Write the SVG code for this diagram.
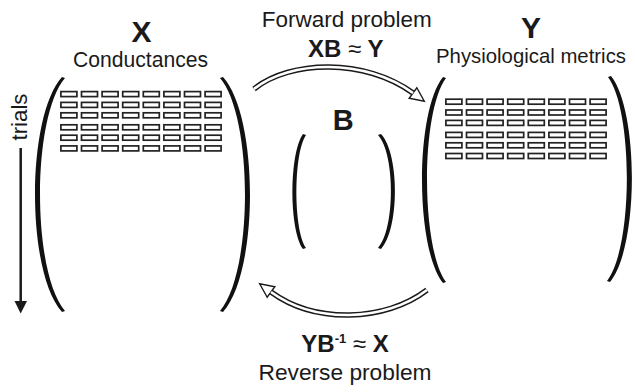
<svg xmlns="http://www.w3.org/2000/svg" xmlns:xlink="http://www.w3.org/1999/xlink" width="635" height="392" viewBox="0 0 635 392">
<style>
  text { font-family: "Liberation Sans", Arial, sans-serif; fill: #1a1a1a; }
  .big { font-size: 30px; font-weight: bold; text-anchor: middle; }
  .sub { font-size: 22px; text-anchor: middle; }
  .eq { font-size: 24px; font-weight: bold; text-anchor: middle; }
  .rel { font-weight: normal; }
  .paren { fill: #111; }
  .c { fill: #fff; stroke: #222; stroke-width: 1.7; }
  .shaft { fill: none; stroke: #1a1a1a; stroke-width: 5.5; }
  .channel { fill: none; stroke: #fff; stroke-width: 2.6; }
</style>
<defs>
  <marker id="hollow" markerUnits="userSpaceOnUse" markerWidth="20" markerHeight="16" viewBox="-2 -8 20 16" refX="0" refY="0" orient="auto">
    <path d="M0,-6.5 L14,0 L0,6.5 Z" fill="#fff" stroke="#1a1a1a" stroke-width="1.4" stroke-linejoin="miter"/>
  </marker>
  <g id="grid">
    <g id="row">
      <rect class="c" x="0" y="0" width="16" height="5"/>
      <rect class="c" x="20.6" y="0" width="16" height="5"/>
      <rect class="c" x="41.2" y="0" width="16" height="5"/>
      <rect class="c" x="61.8" y="0" width="16" height="5"/>
      <rect class="c" x="82.4" y="0" width="16" height="5"/>
      <rect class="c" x="103" y="0" width="16" height="5"/>
      <rect class="c" x="123.6" y="0" width="16" height="5"/>
      <rect class="c" x="144.2" y="0" width="16" height="5"/>
    </g>
    <use xlink:href="#row" href="#row" y="10.8"/>
    <use xlink:href="#row" href="#row" y="21.2"/>
    <use xlink:href="#row" href="#row" y="33.2"/>
    <use xlink:href="#row" href="#row" y="43.6"/>
    <use xlink:href="#row" href="#row" y="54.3"/>
  </g>
</defs>
<rect width="635" height="392" fill="#fff"/>

<g id="matrix-X">
  <text class="big" x="141.5" y="42">X</text>
  <text class="sub" x="140.5" y="66.5" textLength="135" lengthAdjust="spacingAndGlyphs">Conductances</text>
  <path class="paren" d="M62,77 C26,117 26,272 62,312 L65,311 C31.7,272 31.7,117 65,78 Z"/>
  <path class="paren" d="M223,77 C259,117 259,272 223,312 L220,311 C253.3,272 253.3,117 220,78 Z"/>
  <use xlink:href="#grid" href="#grid" transform="translate(60.9,91.6)"/>
</g>

<g id="matrix-Y">
  <text class="big" x="531" y="38">Y</text>
  <text class="sub" x="531" y="63.3" style="font-size:21px" textLength="190" lengthAdjust="spacingAndGlyphs">Physiological metrics</text>
  <path class="paren" d="M443,77 C415,112 415,248 443,283 L446,282 C420.7,248 420.7,112 446,78 Z"/>
  <path class="paren" d="M611,76 C639,111 639,247 610,282 L607,281 C633.3,247 633.3,111 608,77 Z"/>
  <use xlink:href="#grid" href="#grid" transform="translate(445.9,99.2)"/>
</g>

<g id="matrix-B">
  <text class="big" x="343.3" y="130" style="font-size:29px">B</text>
  <path class="paren" d="M303,134 C289,154 289,229 303,249 L306,248 C293.3,229 293.3,154 306,135 Z"/>
  <path class="paren" d="M381,134 C399.7,154 399.7,229 381,249 L378,248 C395.3,229 395.3,154 378,135 Z"/>
</g>

<g id="trials-axis">
  <text class="sub" transform="translate(26.5,117) rotate(-90)" textLength="47" lengthAdjust="spacingAndGlyphs">trials</text>
  <line x1="20.7" y1="148" x2="20.7" y2="302" stroke="#1a1a1a" stroke-width="2.5"/>
  <polygon points="14.5,301 27,301 20.7,313.5" fill="#1a1a1a"/>
</g>

<g id="connectors">
  <g id="forward">
    <path class="shaft" d="M254,89 C290,60 365,58 413,93" marker-end="url(#hollow)"/>
    <path class="channel" d="M254,89 C290,60 365,58 413,93"/>
    <text class="sub" x="346.7" y="26.7" textLength="170" lengthAdjust="spacingAndGlyphs">Forward problem</text>
    <text class="eq" x="345.8" y="56.7">XB <tspan class="rel">≈</tspan> Y</text>
  </g>
  <g id="reverse">
    <path class="shaft" d="M427,290 C385,322 315,324 271,292" marker-end="url(#hollow)"/>
    <path class="channel" d="M427,290 C385,322 315,324 271,292"/>
    <text class="eq" x="345" y="351.7">YB<tspan style="font-size:13px" dy="-9">-1</tspan><tspan dy="9"> </tspan><tspan class="rel">≈</tspan> X</text>
    <text class="sub" x="345" y="380" textLength="173" lengthAdjust="spacingAndGlyphs">Reverse problem</text>
  </g>
</g>
</svg>
